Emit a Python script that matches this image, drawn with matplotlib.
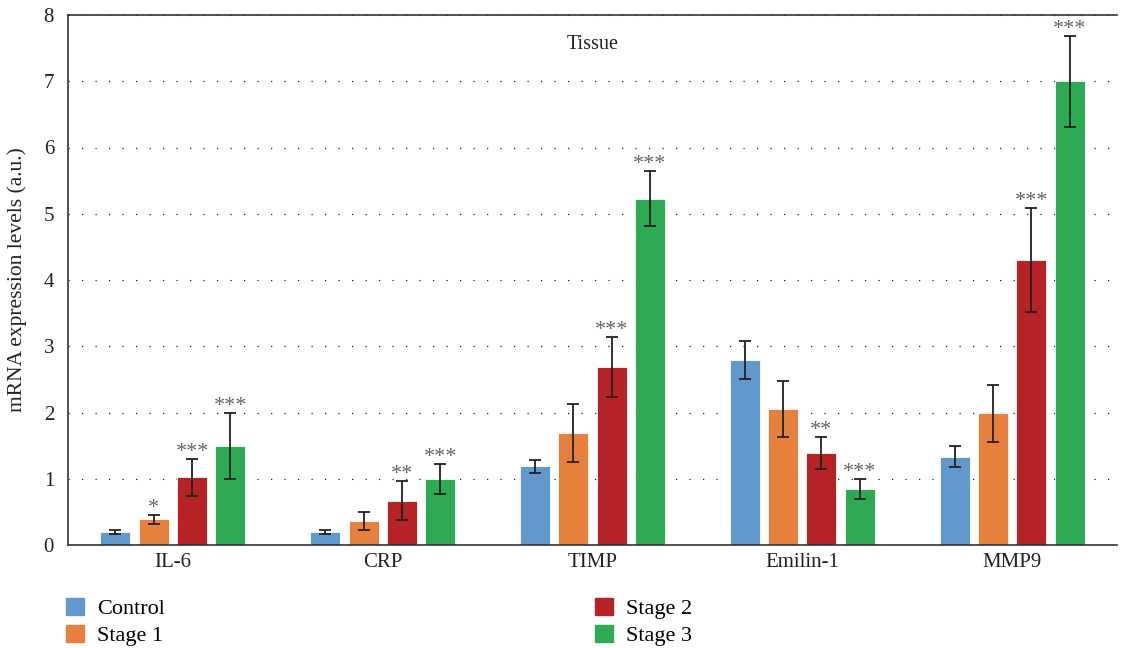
import matplotlib
matplotlib.use("Agg")
import matplotlib.pyplot as plt
import matplotlib.patches as mpatches
import numpy as np

plt.rcParams["font.family"] = ["Liberation Serif", "DejaVu Serif"]

genes = ["IL-6", "CRP", "TIMP", "Emilin-1", "MMP9"]
groups = ["Control", "Stage 1", "Stage 2", "Stage 3"]
colors = ["#6199cc", "#e8803d", "#b52327", "#2eaa55"]

control = [0.20, 0.20, 1.19, 2.79, 1.33]
stage1 = [0.39, 0.36, 1.69, 2.05, 1.99]
stage2 = [1.02, 0.67, 2.69, 1.39, 4.30]
stage3 = [1.50, 1.00, 5.23, 0.84, 7.00]

control_err = [0.03, 0.03, 0.10, 0.29, 0.16]
stage1_err = [0.07, 0.14, 0.44, 0.42, 0.43]
stage2_err = [0.28, 0.30, 0.45, 0.24, 0.78]
stage3_err = [0.50, 0.23, 0.41, 0.15, 0.69]

stars = [
    ["", "", "", "", ""],
    ["*", "", "", "", ""],
    ["***", "**", "***", "**", "***"],
    ["***", "***", "***", "***", "***"],
]

values = [control, stage1, stage2, stage3]
errors = [control_err, stage1_err, stage2_err, stage3_err]

fig = plt.figure(figsize=(11.21, 6.48), dpi=100)
ax = fig.add_axes([68 / 1121, 1 - 545 / 648, 1049 / 1121, 530 / 648])

x = np.arange(len(genes))
width = 0.143
step = 0.183

for i, (vals, errs) in enumerate(zip(values, errors)):
    pos = x + (i - 1.5) * step
    ax.bar(pos, vals, width, color=colors[i], edgecolor="white", linewidth=0.6, zorder=2)
    ax.errorbar(pos, vals, yerr=errs, fmt="none", ecolor="#222222",
                elinewidth=1.3, capsize=4.5, capthick=1.3, zorder=3)
    # significance marks just above the error caps
    for p, v, e, s in zip(pos, vals, errs, stars[i]):
        if s:
            ax.text(p, v + e + 0.03, s, ha="center", va="baseline",
                    fontsize=16, color="#666666")

ax.set_xlim(-0.5, 4.5)
ax.set_ylim(0, 8)
ax.set_yticks(range(0, 9))
ax.set_xticks(x)
ax.set_xticklabels(genes)
ax.tick_params(length=0, labelsize=15, colors="#222222", pad=6)
ax.tick_params(axis="y", pad=10)
ax.yaxis.grid(True, linestyle=(0, (1, 9.8)), color="#222222", linewidth=0.9)
ax.set_axisbelow(True)
for side in ["left", "bottom", "top"]:
    ax.spines[side].set_color("#333333")
    ax.spines[side].set_linewidth(1.2)
ax.spines["right"].set_visible(False)

ax.set_ylabel("mRNA expression levels (a.u.)", fontsize=15.5, color="#222222", labelpad=12)
ax.text(2, 7.55, "Tissue", ha="center", va="center", fontsize=14.5, color="#222222")

handles = [mpatches.Patch(color=c, label=g) for c, g in zip(colors, groups)]
legend_kw = dict(loc="upper left", frameon=False, fontsize=16, handlelength=0.8,
                 handleheight=0.8, labelspacing=0.25, handletextpad=0.6,
                 borderpad=0, borderaxespad=0)
fig.legend(handles=handles[:2], bbox_to_anchor=(66 / 1121, 1 - 598 / 648), **legend_kw)
fig.legend(handles=handles[2:], bbox_to_anchor=(595 / 1121, 1 - 598 / 648), **legend_kw)

fig.savefig("out.png", dpi=100)
